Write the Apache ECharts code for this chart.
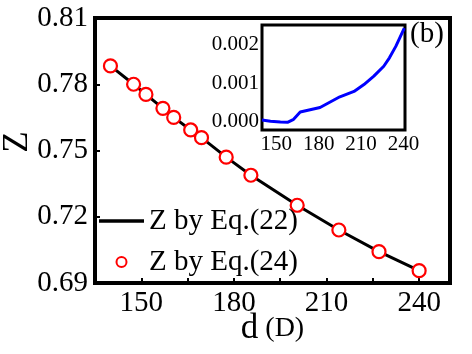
<!DOCTYPE html>
<html>
<head>
<meta charset="utf-8">
<script src="https://cdn.jsdelivr.net/npm/echarts@6/dist/echarts.min.js"></script>
<style>
  html, body { margin: 0; padding: 0; background: #fff; }
  #chart { width: 472px; height: 354px; }
</style>
</head>
<body>
<div id="chart"></div>
<script>
// main panel: Z vs d
const dValues = [140, 147.5, 151.5, 157, 160.5, 166, 169.5, 177.5, 185.5, 200.5, 214, 227, 240];
const zEq22 = [0.7883, 0.7800, 0.7754, 0.7691, 0.7650, 0.7593, 0.7558, 0.7470, 0.7388, 0.7252, 0.7140, 0.7042, 0.6956];
const zEq24 = [0.7883, 0.7800, 0.7754, 0.7691, 0.7650, 0.7593, 0.7558, 0.7470, 0.7388, 0.7252, 0.7140, 0.7042, 0.6956];

// inset (b): difference curve
const insetD = [140, 146, 153, 158, 162, 167, 174, 181, 195, 205, 212, 219, 226, 230, 234.5, 240.5];
const insetDiff = [0.00003, 0.0, -0.00002, -0.00003, 0.00004, 0.00024, 0.0003, 0.00036, 0.00064, 0.00078, 0.00096, 0.00118, 0.00144, 0.00166, 0.00196, 0.00244];

const mainXLabels = [150, 180, 210, 240];
const insetXLabels = [150, 180, 210, 240];

const FONT = "Liberation Serif";

const chart = echarts.init(document.getElementById("chart"), null, { renderer: "canvas" });

const zip = (xs, ys) => xs.map((x, i) => [x, ys[i]]);

const option = {
  animation: false,
  backgroundColor: "#fff",
  textStyle: { fontFamily: FONT, color: "#000" },
  title: {
    text: "(b)",
    left: 410,
    top: 20,
    padding: 0,
    textStyle: { fontFamily: FONT, fontSize: 29, fontWeight: "normal", color: "#000" },
  },
  legend: {
    left: 99,
    top: 206,
    padding: 0,
    orient: "vertical",
    itemWidth: 45,
    itemHeight: 10,
    itemGap: 11,
    textStyle: { fontFamily: FONT, fontSize: 29, color: "#000", lineHeight: 30 },
    data: [
      { name: "Z by Eq.(22)", icon: "path://M0,0 L45,0 L45,3.5 L0,3.5 Z", itemStyle: { color: "#000", borderWidth: 0 } },
      { name: "Z by Eq.(24)", icon: "circle" },
    ],
  },
  grid: [
    {
      left: 95, top: 18, right: 22, bottom: 71,
      containLabel: false, outerBoundsMode: "none",
      show: true, borderColor: "#000", borderWidth: 4, backgroundColor: "transparent",
    },
    {
      left: 262, top: 25, width: 143, height: 105,
      containLabel: false, outerBoundsMode: "none",
      show: true, borderColor: "#000", borderWidth: 3, backgroundColor: "#fff",
    },
  ],
  xAxis: [
    {
      gridIndex: 0,
      type: "value",
      min: 135,
      max: 250,
      interval: 15,
      name: "{a|d}{b| (D)}",
      nameLocation: "middle",
      nameMoveOverlap: false,
      nameGap: 28,
      nameTextStyle: {
        rich: {
          a: { fontFamily: FONT, fontSize: 35, color: "#000" },
          b: { fontFamily: FONT, fontSize: 28, color: "#000" },
        },
      },
      axisLine: { show: false },
      axisTick: { show: true, inside: true, length: 5, lineStyle: { color: "#000", width: 2 } },
      splitLine: { show: false },
      axisLabel: {
        margin: 6,
        fontFamily: FONT,
        fontSize: 29,
        color: "#000",
        formatter: (v) => (mainXLabels.indexOf(Math.round(v)) >= 0 ? String(Math.round(v)) : ""),
      },
    },
    {
      gridIndex: 1,
      type: "value",
      min: 140,
      max: 241,
      interval: 10,
      axisLine: { show: false },
      axisTick: { show: false },
      splitLine: { show: false },
      axisLabel: {
        margin: 4,
        fontFamily: FONT,
        fontSize: 21,
        color: "#000",
        formatter: (v) => (insetXLabels.indexOf(Math.round(v)) >= 0 ? String(Math.round(v)) : ""),
      },
    },
  ],
  yAxis: [
    {
      gridIndex: 0,
      type: "value",
      min: 0.69,
      max: 0.81,
      interval: 0.03,
      name: "Z",
      nameLocation: "middle",
      nameMoveOverlap: false,
      nameGap: 60,
      nameTextStyle: { fontFamily: FONT, fontSize: 35, color: "#000", padding: [0, 0, 0, 17] },
      axisLine: { show: false },
      axisTick: { show: true, inside: true, length: 5, lineStyle: { color: "#000", width: 2 } },
      splitLine: { show: false },
      axisLabel: {
        margin: 7,
        fontFamily: FONT,
        fontSize: 29,
        color: "#000",
        formatter: (v) => v.toFixed(2),
      },
    },
    {
      gridIndex: 1,
      type: "value",
      min: -0.00023,
      max: 0.00252,
      splitNumber: 3,
      axisLine: { show: false },
      axisTick: { show: false },
      splitLine: { show: false },
      axisLabel: {
        margin: 3,
        showMinLabel: false,
        showMaxLabel: false,
        fontFamily: FONT,
        fontSize: 21,
        color: "#000",
        formatter: (v) => {
          const k = v * 1000;
          return Math.abs(k - Math.round(k)) < 1e-6 ? v.toFixed(3) : "";
        },
      },
    },
  ],
  series: [
    {
      name: "Z by Eq.(22)",
      type: "line",
      xAxisIndex: 0,
      yAxisIndex: 0,
      data: zip(dValues, zEq22),
      symbol: "none",
      lineStyle: { color: "#000", width: 3 },
      itemStyle: { color: "#000" },
      z: 2,
    },
    {
      name: "Z by Eq.(24)",
      type: "scatter",
      xAxisIndex: 0,
      yAxisIndex: 0,
      data: zip(dValues, zEq24),
      symbol: "circle",
      symbolSize: 13,
      itemStyle: { color: "#fff", borderColor: "#ff0000", borderWidth: 2.2, opacity: 1 },
      z: 3,
    },
    {
      name: "inset",
      type: "line",
      xAxisIndex: 1,
      yAxisIndex: 1,
      data: zip(insetD, insetDiff),
      symbol: "none",
      lineStyle: { color: "#0000ff", width: 3 },
      z: 4,
    },
  ],
};

chart.setOption(option);
</script>
</body>
</html>
